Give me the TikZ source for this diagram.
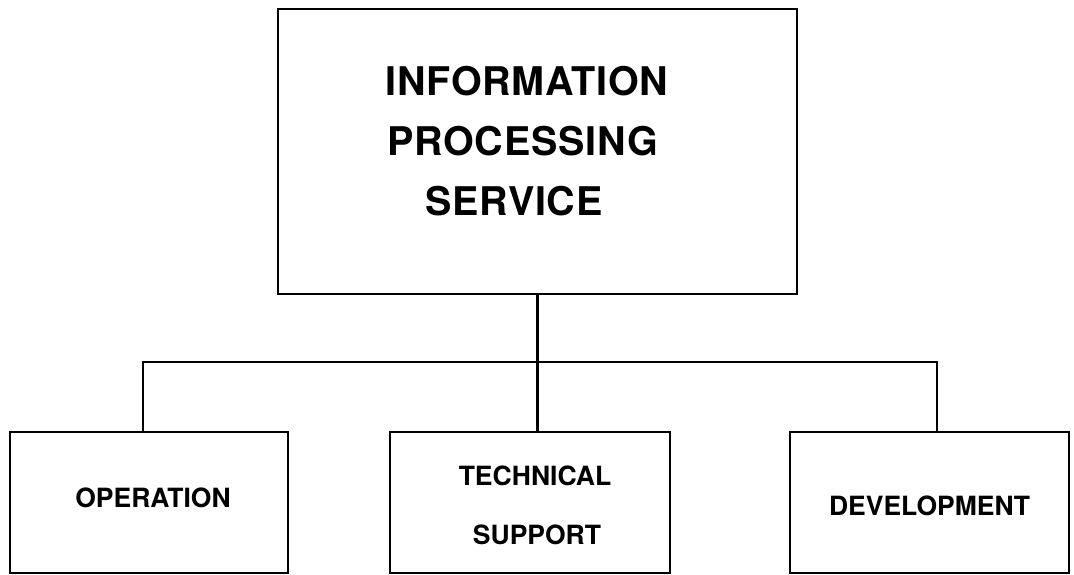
\documentclass[tikz,border=0pt]{standalone}
\usepackage{fontspec}
\setmainfont{TeX Gyre Heros}
\newfontfamily\headfont[LetterSpace=2]{TeX Gyre Heros}
\begin{document}
\begin{tikzpicture}[x=1pt,y=-1pt,
  unitbox/.style={draw, line width=2.8pt, rectangle, inner sep=0pt, outer sep=0pt},
  bigtxt/.style={anchor=base, inner sep=0pt, font=\headfont\fontsize{39.5}{46}\selectfont\bfseries},
  smalltxt/.style={anchor=base, inner sep=0pt, font=\fontsize{26.5}{32}\selectfont\bfseries},
  link/.style={line width=2.8pt}]
  \useasboundingbox (0,0) rectangle (1074,575);

  % head office
  \node[unitbox, minimum width=519pt, minimum height=285pt] (ips) at (537.5,151.5) {};
  \node[bigtxt] (ips1) at (527,96) {INFORMATION};
  \node[bigtxt] (ips2) at (522.5,156) {PROCESSING};
  \node[bigtxt] (ips3) at (514,215) {SERVICE};

  % divisions
  \node[unitbox, minimum width=278pt, minimum height=141pt] (op)  at (149,502.5) {};
  \node[unitbox, minimum width=280pt, minimum height=141pt] (ts)  at (530,502.5) {};
  \node[unitbox, minimum width=279pt, minimum height=141pt] (dev) at (929.5,502.5) {};

  \node[smalltxt] (optxt)  at (153,507) {OPERATION};
  \node[smalltxt] (tstxt1) at (535,485) {TECHNICAL};
  \node[smalltxt] (tstxt2) at (537,544) {SUPPORT};
  \node[smalltxt] (devtxt) at (929.5,515) {DEVELOPMENT};

  % reporting lines
  \coordinate (jl) at (143,362);
  \coordinate (jr) at (937,362);
  \draw[link] (ips.south) -- (ips.south |- ts.north);
  \draw[link, line join=miter] (op.north -| jl) -- (jl) -- (jr) -- (dev.north -| jr);
\end{tikzpicture}
\end{document}
